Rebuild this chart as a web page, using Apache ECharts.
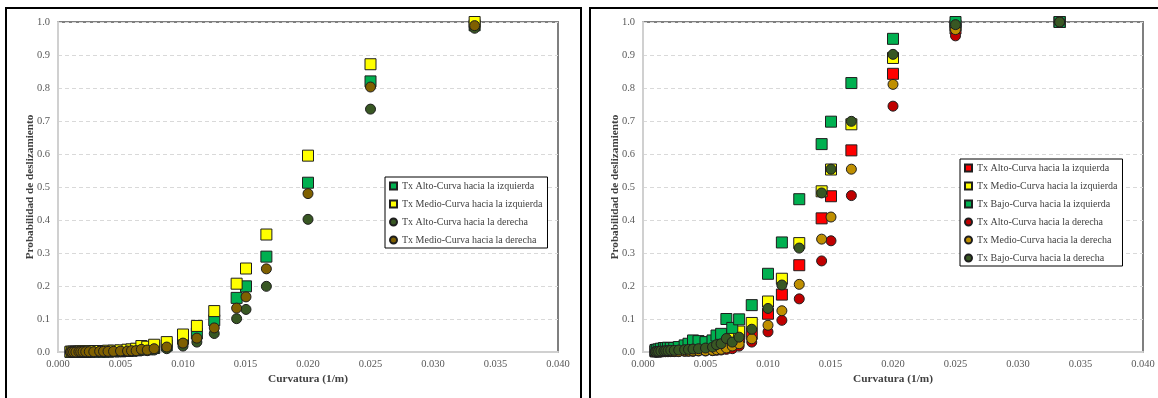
<!DOCTYPE html>
<html>
<head>
<meta charset="utf-8">
<script src="https://cdn.jsdelivr.net/npm/echarts@6/dist/echarts.min.js"></script>
<style>
html,body{margin:0;padding:0;background:#fff;width:1158px;height:398px;overflow:hidden;}
.box{position:absolute;box-sizing:border-box;border:2px solid #000;}
.chart{position:absolute;top:0;height:398px;}
</style>
</head>
<body>
<div class="box" style="left:5px;top:7px;width:577px;height:420px;"></div>
<div class="box" style="left:589px;top:7px;width:600px;height:420px;"></div>
<div id="c1" class="chart" style="left:0;width:580px;"></div>
<div id="c2" class="chart" style="left:585px;width:573px;"></div>
<script>
// Curvature values (1/m)
const curvatura = [0.00100, 0.00111, 0.00125, 0.00143, 0.00167, 0.00182, 0.00200, 0.00222, 0.00250, 0.00286,
  0.00333, 0.00364, 0.00400, 0.00444, 0.00500, 0.00556, 0.00588, 0.00625, 0.00667, 0.00714,
  0.00769, 0.00870, 0.01000, 0.01111, 0.01250, 0.01429, 0.01504, 0.01667, 0.02000, 0.02500, 0.03333];

// Left panel
const izqAltoL  = [0.000,0.000,0.000,0.000,0.000,0.000,0.000,0.000,0.001,0.001,0.001,0.001,0.001,0.002,0.002,0.003,0.004,0.005,0.008,0.008,0.012,0.020,0.040,0.056,0.096,0.164,0.199,0.289,0.513,0.820,0.990];
const izqMedioL = [0.001,0.001,0.001,0.001,0.001,0.002,0.002,0.002,0.002,0.003,0.003,0.003,0.004,0.004,0.005,0.007,0.008,0.010,0.018,0.016,0.022,0.030,0.053,0.079,0.124,0.207,0.253,0.356,0.595,0.872,1.000];
const derAltoL  = [0.000,0.000,0.000,0.000,0.000,0.000,0.000,0.000,0.000,0.000,0.001,0.001,0.001,0.001,0.001,0.002,0.002,0.003,0.004,0.004,0.006,0.010,0.018,0.030,0.056,0.101,0.129,0.199,0.402,0.736,0.981];
const derMedioL = [0.000,0.000,0.000,0.000,0.001,0.001,0.001,0.001,0.001,0.001,0.002,0.002,0.002,0.002,0.003,0.003,0.004,0.004,0.008,0.006,0.010,0.015,0.027,0.042,0.073,0.133,0.167,0.252,0.480,0.803,0.989];

// Right panel
const izqAltoR  = [0.002,0.002,0.003,0.003,0.004,0.004,0.005,0.005,0.006,0.007,0.008,0.009,0.010,0.012,0.015,0.020,0.025,0.030,0.035,0.040,0.045,0.055,0.116,0.174,0.263,0.405,0.472,0.611,0.843,0.980,1.000];
const izqMedioR = [0.003,0.003,0.004,0.004,0.005,0.005,0.006,0.006,0.007,0.008,0.009,0.010,0.012,0.015,0.018,0.022,0.027,0.030,0.035,0.045,0.062,0.088,0.153,0.222,0.330,0.487,0.553,0.690,0.891,0.990,1.000];
const izqBajoR  = [0.006,0.007,0.008,0.010,0.012,0.012,0.013,0.012,0.012,0.015,0.020,0.025,0.035,0.033,0.030,0.035,0.050,0.055,0.100,0.073,0.099,0.142,0.237,0.332,0.463,0.630,0.698,0.815,0.949,1.000,1.000];
const derAltoR  = [0.000,0.000,0.000,0.000,0.001,0.001,0.001,0.001,0.001,0.001,0.002,0.002,0.002,0.003,0.003,0.004,0.005,0.006,0.008,0.010,0.018,0.030,0.061,0.096,0.161,0.276,0.337,0.474,0.745,0.958,1.000];
const derMedioR = [0.000,0.000,0.001,0.001,0.001,0.001,0.001,0.002,0.002,0.002,0.003,0.003,0.003,0.004,0.004,0.005,0.007,0.008,0.012,0.018,0.025,0.040,0.081,0.125,0.205,0.342,0.409,0.554,0.811,0.977,1.000];
const derBajoR  = [0.001,0.002,0.002,0.003,0.003,0.004,0.004,0.005,0.005,0.006,0.007,0.008,0.009,0.010,0.012,0.015,0.022,0.025,0.041,0.030,0.045,0.069,0.132,0.203,0.315,0.482,0.554,0.699,0.902,0.992,1.000];

const xTicks = {min: 0, max: 0.04, interval: 0.005};
const yTicks = {min: 0, max: 1, interval: 0.1};

const FONT = '"Liberation Serif", "Times New Roman", serif';

function pairs(ys){ return curvatura.map((x,i)=>[x, ys[i]]); }

function makeSeries(name, ys, color, shape){
  return {
    name: name, type: 'scatter', data: pairs(ys),
    symbol: shape, symbolSize: shape === 'rect' ? 11 : 10,
    itemStyle: {color: color, borderColor: '#1e1e1e', borderWidth: 1, opacity: 1},
    emphasis: {disabled: true}
  };
}

function makeOption(series, legendPos){
  return {
    animation: false,
    textStyle: {fontFamily: FONT},
    grid: {left: 58, top: 22, width: 500, height: 330, show: true, borderColor: '#7f7f7f', borderWidth: 2, backgroundColor: 'transparent'},
    xAxis: {
      type: 'value', min: xTicks.min, max: xTicks.max, interval: xTicks.interval,
      name: 'Curvatura (1/m)', nameLocation: 'middle', nameGap: 22, nameMoveOverlap: false,
      nameTextStyle: {fontFamily: FONT, fontSize: 11.3, fontWeight: 'bold', color: '#404040'},
      axisLine: {show: true, lineStyle: {color: '#d0d0d0', width: 2}},
      axisTick: {show: false},
      splitLine: {show: false},
      axisLabel: {fontFamily: FONT, fontSize: 10.5, color: '#595959', margin: 7, formatter: v => v.toFixed(3)}
    },
    yAxis: {
      type: 'value', min: yTicks.min, max: yTicks.max, interval: yTicks.interval,
      name: 'Probabilidad de deslizamiento', nameLocation: 'middle', nameGap: 22, nameMoveOverlap: false,
      nameTextStyle: {fontFamily: FONT, fontSize: 11.2, fontWeight: 'bold', color: '#404040'},
      axisLine: {show: true, lineStyle: {color: '#d0d0d0', width: 2}},
      axisTick: {show: false},
      splitLine: {show: true, lineStyle: {color: '#d9d9d9', type: [4, 3], width: 1}},
      axisLabel: {fontFamily: FONT, fontSize: 10.5, color: '#595959', margin: 8, formatter: v => v.toFixed(1)}
    },
    legend: {
      orient: 'vertical', left: legendPos.left, top: legendPos.top,
      backgroundColor: '#fff', borderColor: '#000', borderWidth: 1,
      padding: [3, 5, 2, 4], itemGap: 6, itemWidth: 7, itemHeight: 7,
      textStyle: {fontFamily: FONT, fontSize: 10, color: '#404040', lineHeight: 12},
      data: series.map(s => ({name: s.name, icon: s.symbol}))
    },
    series: series
  };
}

const s1 = [
  makeSeries('Tx Alto-Curva hacia la izquierda', izqAltoL, '#00b050', 'rect'),
  makeSeries('Tx Medio-Curva hacia la izquierda', izqMedioL, '#ffff00', 'rect'),
  makeSeries('Tx Alto-Curva hacia la derecha', derAltoL, '#385723', 'circle'),
  makeSeries('Tx Medio-Curva hacia la derecha', derMedioL, '#7f6000', 'circle')
];
const s2 = [
  makeSeries('Tx Alto-Curva hacia la izquierda', izqAltoR, '#ff0000', 'rect'),
  makeSeries('Tx Medio-Curva hacia la izquierda', izqMedioR, '#ffff00', 'rect'),
  makeSeries('Tx Bajo-Curva hacia la izquierda', izqBajoR, '#00b050', 'rect'),
  makeSeries('Tx Alto-Curva hacia la derecha', derAltoR, '#c00000', 'circle'),
  makeSeries('Tx Medio-Curva hacia la derecha', derMedioR, '#bf8f00', 'circle'),
  makeSeries('Tx Bajo-Curva hacia la derecha', derBajoR, '#385723', 'circle')
];

echarts.init(document.getElementById('c1')).setOption(makeOption(s1, {left: 385, top: 177}));
echarts.init(document.getElementById('c2')).setOption(makeOption(s2, {left: 375, top: 159}));
</script>
</body>
</html>
